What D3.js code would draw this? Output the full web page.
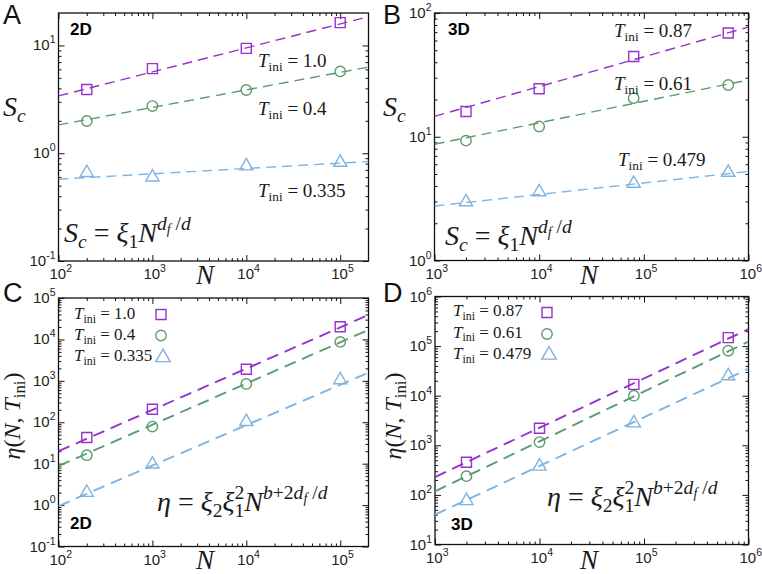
<!DOCTYPE html>
<html><head><meta charset="utf-8">
<script src="https://cdn.jsdelivr.net/npm/d3@7"></script>
<style>html,body{margin:0;padding:0;background:#fff}svg{display:block}</style>
</head><body>
<script>
// ---------- data ----------
// Panel A (2D) S_c vs N
const nA = [200, 1000, 10000, 100000];
const scA1 = [3.9, 6.1, 9.4, 16.3];
const scA2 = [1.99, 2.74, 3.86, 5.74];
const scA3 = [0.66, 0.60, 0.76, 0.82];
const fitNA = [100, 200000];
const fitA1 = [3.4, 18.5];
const fitA2 = [1.83, 6.3];
const fitA3 = [0.574, 0.838];
// Panel B (3D) S_c vs N
const nB = [2000, 10000, 80000, 640000];
const scB1 = [16, 24.4, 44.5, 69];
const scB2 = [9.3, 12.1, 20.5, 26.2];
const scB3 = [2.97, 3.58, 4.19, 5.14];
const fitNB = [1000, 1000000];
const fitB1 = [14.6, 77];
const fitB2 = [8.7, 28.8];
const fitB3 = [2.76, 5.25];
// Panel C (2D) eta vs N
const etaC1 = [43, 206, 1900, 20300];
const etaC2 = [16, 78.5, 840, 8700];
const etaC3 = [2.0, 9.7, 103, 1050];
const fitC1 = [20, 39000];
const fitC2 = [8.8, 17000];
const fitC3 = [0.95, 1580];
// Panel D (3D) eta vs N
const etaD1 = [455, 2200, 16900, 148000];
const etaD2 = [239, 1160, 10000, 80500];
const etaD3 = [76, 377, 2800, 25000];
const fitD1 = [229, 220000];
const fitD2 = [118, 123000];
const fitD3 = [40, 35000];
// temperatures
const tempsA = ["1.0", "0.4", "0.335"];
const tempsB = ["0.87", "0.61", "0.479"];
// tick exponents
const xExpA = [2, 3, 4, 5], yExpA = [-1, 0, 1];
const xExpB = [3, 4, 5, 6], yExpB = [0, 1, 2];
const xExpC = [2, 3, 4, 5], yExpC = [-1, 0, 1, 2, 3, 4, 5];
const xExpD = [3, 4, 5, 6], yExpD = [1, 2, 3, 4, 5, 6];

// ---------- style ----------
const COLORS = ["#9533cc", "#5c9c6c", "#7fb3e0"];
const SERIF = '"Liberation Serif"';
const SANS = '"Liberation Sans"';

const svg = d3.select("body").append("svg").attr("width", 762).attr("height", 574);

function mathText(g, x, y, size, segs, anchor) {
  const t = g.append("text").attr("x", x).attr("y", y)
    .style("font-family", SERIF).attr("font-size", size).attr("fill", "#1a1a1a")
    .attr("text-anchor", anchor || "start");
  let cur = 0;
  segs.forEach(s => {
    const lvl = s.l || 0;
    let shift = 0, fs = size;
    if (lvl === -1) { shift = 0.22 * size; fs = 0.7 * size; }
    if (lvl === 1) { shift = -0.42 * size; fs = 0.7 * size; }
    if (lvl === 2) { shift = -0.42 * size + 0.14 * size; fs = 0.5 * size; } // sub of sup
    const sp = t.append("tspan").attr("dy", shift - cur).attr("font-size", fs)
      .style("font-family", SERIF)
      .attr("font-style", s.i ? "italic" : "normal").text(s.t.replace(/ /g, "\u00a0"));
    if (s.dx) sp.attr("dx", s.dx * size);
    cur = shift;
  });
  return t;
}
const Tini = (val) => [{t: "T", i: 1}, {t: "ini", l: -1}, {t: " = " + val}];
const ScFormula = [{t: "S", i: 1}, {t: "c", i: 1, l: -1}, {t: " = "}, {t: "ξ", i: 1}, {t: "1", l: -1},
  {t: "N", i: 1}, {t: "d", i: 1, l: 1}, {t: "f", i: 1, l: 2}, {t: " /", l: 1}, {t: "d", i: 1, l: 1}];
const EtaFormula = [{t: "η", i: 1}, {t: " = "}, {t: "ξ", i: 1}, {t: "2", l: -1}, {t: "ξ", i: 1},
  {t: "2", l: 1}, {t: "1", l: -1, dx: -0.35}, {t: "N", i: 1}, {t: "b", i: 1, l: 1}, {t: "+2", l: 1}, {t: "d", i: 1, l: 1},
  {t: "f", i: 1, l: 2}, {t: " /", l: 1}, {t: "d", i: 1, l: 1}];

function minors(dom) {
  const out = [];
  const e0 = Math.floor(Math.log10(dom[0])), e1 = Math.ceil(Math.log10(dom[1]));
  for (let e = e0; e <= e1; e++) for (let k = 2; k <= 9; k++) {
    const v = k * Math.pow(10, e);
    if (v > dom[0] * 1.0001 && v < dom[1] * 0.9999) out.push(v);
  }
  return out;
}

function panel(cfg) {
  const g = svg.append("g");
  const x = d3.scaleLog().domain(cfg.xd).range([cfg.l, cfg.r]);
  const y = d3.scaleLog().domain(cfg.yd).range([cfg.b, cfg.t]);
  const xMaj = cfg.xe.map(e => Math.pow(10, e)), yMaj = cfg.ye.map(e => Math.pow(10, e));
  const xMin = minors(cfg.xd), yMin = minors(cfg.yd);
  const W = cfg.r - cfg.l, H = cfg.b - cfg.t;
  const axes = [
    [d3.axisBottom(x), `translate(0,${cfg.b})`, xMaj, xMin],
    [d3.axisTop(x), `translate(0,${cfg.t})`, xMaj, xMin],
    [d3.axisLeft(y), `translate(${cfg.l},0)`, yMaj, yMin],
    [d3.axisRight(y), `translate(${cfg.r},0)`, yMaj, yMin]
  ];
  axes.forEach(([ax, tr, maj, mn]) => {
    const a1 = g.append("g").attr("transform", tr)
      .call(ax.tickValues(maj).tickSize(-6).tickFormat(""));
    a1.select(".domain").remove();
    const a2 = g.append("g").attr("transform", tr)
      .call(ax.tickValues(mn).tickSize(-3).tickFormat(""));
    a2.select(".domain").remove();
  });
  g.selectAll(".tick line").attr("stroke", "#111").attr("stroke-width", 1);
  g.append("rect").attr("x", cfg.l).attr("y", cfg.t).attr("width", W).attr("height", H)
    .attr("fill", "none").attr("stroke", "#111").attr("stroke-width", 1.3);

  // tick labels
  cfg.xe.forEach(e => {
    const t = g.append("text").attr("x", x(Math.pow(10, e)) - 9).attr("y", cfg.b + 18)
      .style("font-family", SANS).attr("font-size", 15).attr("fill", "#222");
    t.append("tspan").style("font-family", SANS).text("10");
    t.append("tspan").style("font-family", SANS).attr("dy", -7).attr("font-size", 10.5).text(e);
  });
  cfg.ye.forEach(e => {
    const t = g.append("text").attr("x", cfg.l - 3).attr("y", y(Math.pow(10, e)) + 5)
      .style("font-family", SANS).attr("font-size", 15).attr("fill", "#222").attr("text-anchor", "end");
    t.append("tspan").style("font-family", SANS).text("10");
    t.append("tspan").style("font-family", SANS).attr("dy", -7).attr("font-size", 10.5).text(e < 0 ? "-" + (-e) : e);
  });

  // fit lines
  const clipId = "clip" + cfg.id;
  g.append("clipPath").attr("id", clipId).append("rect")
    .attr("x", cfg.l).attr("y", cfg.t).attr("width", W).attr("height", H);
  const line = d3.line().x(d => x(d[0])).y(d => y(d[1]));
  cfg.fits.forEach((f, i) => {
    g.append("path").attr("clip-path", `url(#${clipId})`)
      .attr("d", line(cfg.fitN.map((n, j) => [n, f[j]])))
      .attr("fill", "none").attr("stroke", COLORS[i]).attr("stroke-width", cfg.lw)
      .attr("stroke-dasharray", cfg.dash);
  });
  // markers
  const sym = [d3.symbol(d3.symbolSquare, 100), d3.symbol(d3.symbolCircle, 85), d3.symbol(d3.symbolTriangle, 75)];
  cfg.series.forEach((s, i) => {
    g.selectAll(null).data(cfg.n.map((n, j) => [n, s[j]])).enter().append("path")
      .attr("transform", d => `translate(${x(d[0])},${y(d[1])})`)
      .attr("d", sym[i]()).attr("fill", "none").attr("stroke", COLORS[i]).attr("stroke-width", 1.4);
  });
  return {g, x, y};
}

// Panel A
panel({id: "A", l: 58.5, r: 368.5, t: 13, b: 261, xd: [100, 200000], yd: [0.1, 20],
  xe: xExpA, ye: yExpA, n: nA, series: [scA1, scA2, scA3], fitN: fitNA, fits: [fitA1, fitA2, fitA3],
  lw: 1.4, dash: "10,6"});
// Panel B
panel({id: "B", l: 434.5, r: 748.5, t: 13, b: 260.5, xd: [1000, 1000000], yd: [1, 100],
  xe: xExpB, ye: yExpB, n: nB, series: [scB1, scB2, scB3], fitN: fitNB, fits: [fitB1, fitB2, fitB3],
  lw: 1.4, dash: "10,6"});
// Panel C
panel({id: "C", l: 58.5, r: 368.5, t: 298, b: 546.5, xd: [100, 200000], yd: [0.1, 100000],
  xe: xExpC, ye: yExpC, n: nA, series: [etaC1, etaC2, etaC3], fitN: fitNA, fits: [fitC1, fitC2, fitC3],
  lw: 1.9, dash: "12,7"});
// Panel D
panel({id: "D", l: 435, r: 748.5, t: 296.5, b: 544.5, xd: [1000, 1000000], yd: [10, 1000000],
  xe: xExpD, ye: yExpD, n: nB, series: [etaD1, etaD2, etaD3], fitN: fitNB, fits: [fitD1, fitD2, fitD3],
  lw: 1.9, dash: "12,7"});

// panel letters
[["A", 3, 24], ["B", 383, 24], ["C", 3, 302], ["D", 383, 302]].forEach(([s, x, y]) => {
  svg.append("text").attr("x", x).attr("y", y).style("font-family", SANS).attr("font-size", 27)
    .attr("fill", "#111").text(s);
});
// dimension tags
[["2D", 70, 35], ["3D", 448, 35], ["2D", 70, 529], ["3D", 451, 530]].forEach(([s, x, y]) => {
  svg.append("text").attr("x", x).attr("y", y).style("font-family", SANS).attr("font-size", 17)
    .attr("font-weight", "bold").attr("fill", "#000").text(s);
});

// axis labels
mathText(svg, 3, 116, 28, [{t: "S", i: 1}, {t: "c", i: 1, l: -1}]);
mathText(svg, 383, 116, 28, [{t: "S", i: 1}, {t: "c", i: 1, l: -1}]);
[[205, 284], [589, 284], [205, 569], [589, 569]].forEach(([x, y]) => mathText(svg, x, y, 27, [{t: "N", i: 1}], "middle"));
[[20, 416], [401, 416]].forEach(([x, y]) => {
  const g = svg.append("g").attr("transform", `translate(${x},${y}) rotate(-90)`);
  mathText(g, 0, 0, 24, [{t: "η", i: 1}, {t: "("}, {t: "N", i: 1}, {t: ", "}, {t: "T", i: 1}, {t: "ini", l: -1}, {t: ")"}], "middle");
});

// annotations A
mathText(svg, 258, 67, 19, Tini(tempsA[0]));
mathText(svg, 258, 115, 19, Tini(tempsA[1]));
mathText(svg, 258, 197, 19, Tini(tempsA[2]));
mathText(svg, 64, 242, 28, ScFormula);
// annotations B
mathText(svg, 614, 37, 19, Tini(tempsB[0]));
mathText(svg, 614, 90, 19, Tini(tempsB[1]));
mathText(svg, 618, 166, 19, Tini(tempsB[2]));
mathText(svg, 445, 245, 28, ScFormula);
// legend C
const legSym = [d3.symbol(d3.symbolSquare, 100), d3.symbol(d3.symbolCircle, 85), d3.symbol(d3.symbolTriangle, 90)];
[[74, 319, 161, 314.5], [74, 340, 161, 335.5], [74, 361, 163, 357.5]].forEach(([tx, ty, mx, my], i) => {
  mathText(svg, tx, ty, 17, Tini(tempsA[i]));
  svg.append("path").attr("transform", `translate(${mx},${my})`).attr("d", legSym[i]())
    .attr("fill", "none").attr("stroke", COLORS[i]).attr("stroke-width", 1.4);
});
mathText(svg, 157, 511, 28, EtaFormula);
// legend D
[[453, 316, 547, 312.5], [453, 337.5, 547, 334], [453, 359, 549, 355]].forEach(([tx, ty, mx, my], i) => {
  mathText(svg, tx, ty, 17, Tini(tempsB[i]));
  svg.append("path").attr("transform", `translate(${mx},${my})`).attr("d", legSym[i]())
    .attr("fill", "none").attr("stroke", COLORS[i]).attr("stroke-width", 1.4);
});
mathText(svg, 547, 506, 28, EtaFormula);
</script>
</body></html>
